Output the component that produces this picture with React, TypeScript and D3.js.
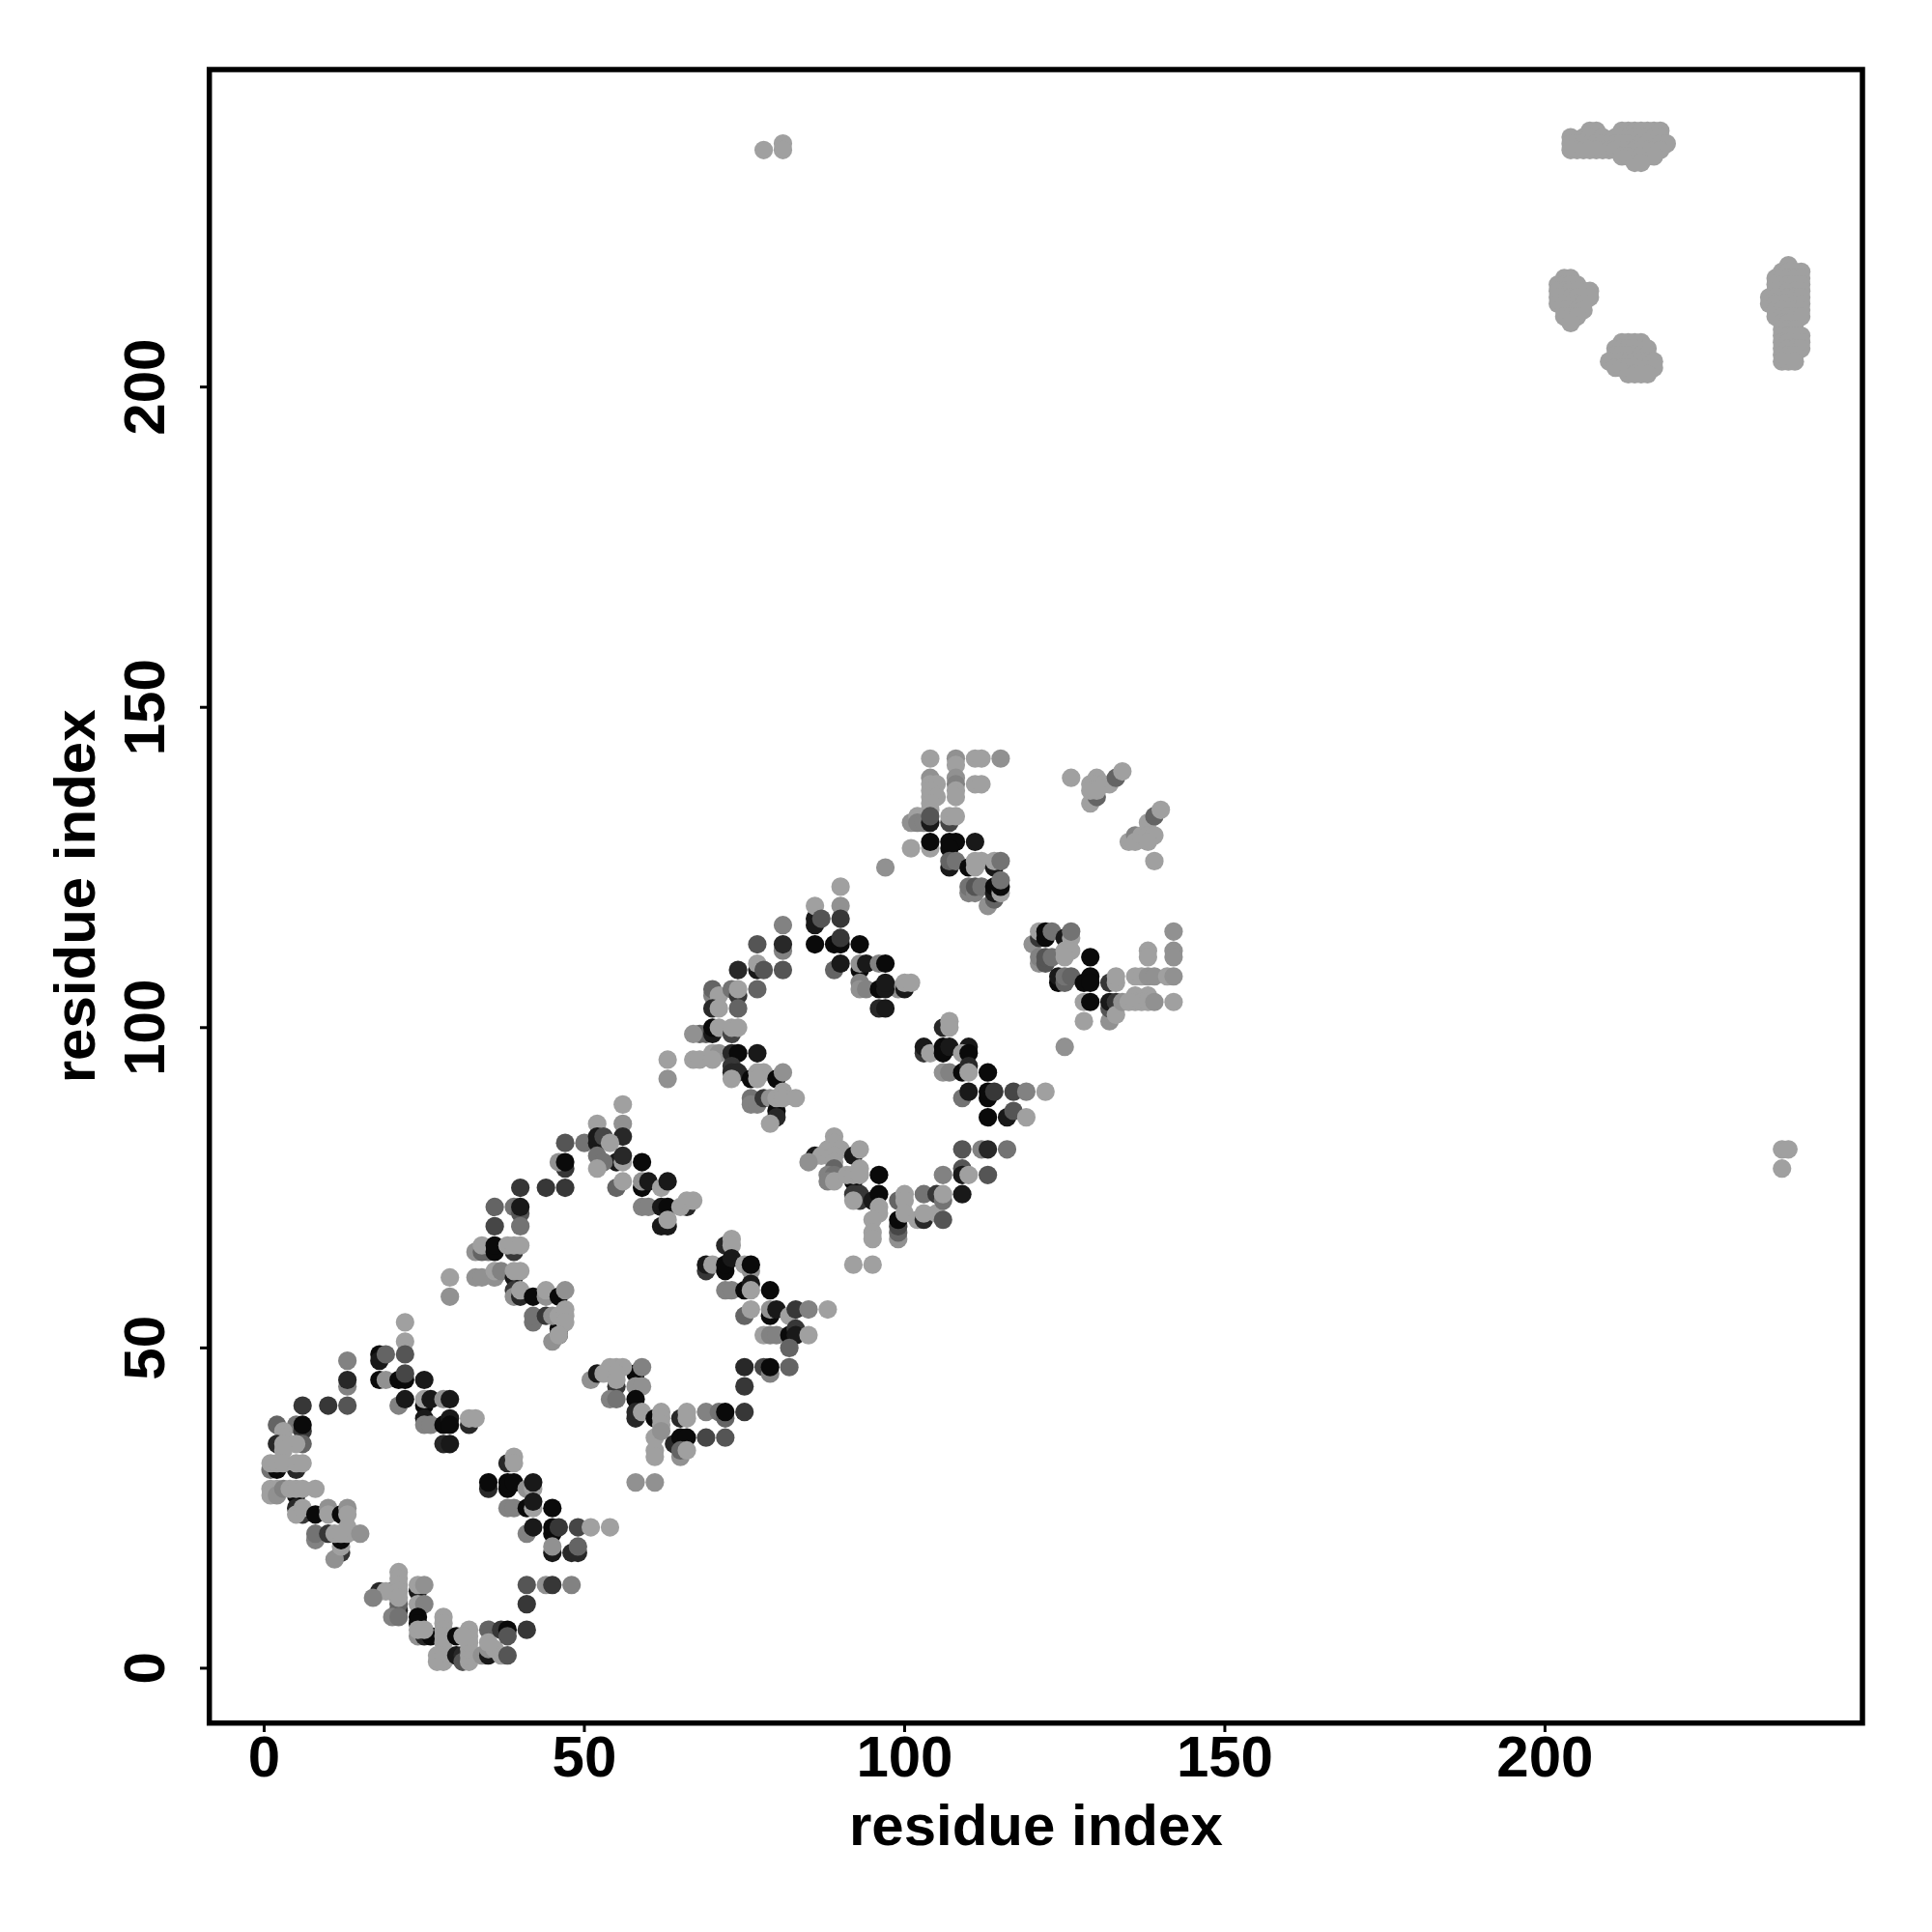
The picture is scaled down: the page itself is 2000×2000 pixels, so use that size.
import React from 'react';
import * as d3 from 'd3';

// Each contact is [residue i, residue j, shade level]
type C = [number, number, number];
const loopA: C[] = [[20,12,0],[18,12,2],[19,12,10],[17,11,8],[21,9,2],[21,10,6],[21,15,10],[21,14,10],[21,13,10],[21,12,10],[21,11,10],[20,8,8],[21,8,7],[24,12,1],[24,13,10],[25,13,9],[24,10,10],[25,10,8],[24,8,0],[24,7,0],[24,5,9],[25,5,2],[26,5,0],[24,6,10],[25,6,10],[28,8,10],[28,7,10],[28,6,10],[28,5,10],[28,4,10],[27,2,10],[27,1,10],[28,2,10],[28,1,10],[29,2,10],[30,5,0],[30,2,1],[31,2,2],[31,1,5],[31,5,3],[32,1,10],[32,2,10],[32,3,10],[32,4,10],[32,5,10],[32,6,10],[31,5,10],[34,2,9],[35,2,1],[35,3,9],[36,3,10],[37,2,10],[38,2,5],[35,6,6],[35,4,10],[37,6,3],[38,6,0],[38,5,5],[41,6,3],[41,10,3],[41,13,5],[44,13,9],[45,13,3],[48,13,8]];
const loopB: C[] = [[6,41,3],[10,41,3],[13,41,5],[13,44,8],[13,45,2],[13,48,8],[2,38,6],[5,38,7],[6,37,3],[6,38,0],[3,37,10],[3,36,10],[2,35,2],[6,35,6],[5,35,10],[3,35,10],[3,34,10],[1,31,7],[2,31,0],[5,31,2],[1,32,10],[2,32,10],[3,32,10],[5,32,10],[6,32,10],[1,28,10],[2,28,10],[1,27,10],[2,27,9],[3,28,8],[5,27,0],[4,28,10],[5,28,10],[6,28,10],[8,28,10],[5,25,2],[6,24,3],[5,24,10],[6,25,10],[8,24,0],[10,25,9],[10,24,10],[12,24,0],[13,25,9],[13,24,10],[8,20,8],[8,21,7],[10,21,3],[12,18,3],[11,17,9],[12,19,10],[12,20,0],[11,21,10],[12,21,10],[13,21,10],[13,22,10],[15,21,9]];
const loopC: C[] = [[22,54,10],[22,51,10],[22,49,5],[18,49,0],[18,48,1],[19,49,6],[18,45,0],[19,45,9],[21,45,0],[22,45,0],[22,46,4],[25,45,1],[21,41,8],[22,42,1],[25,41,0],[25,42,10],[26,42,1],[28,42,9],[29,42,1],[25,39,1],[25,38,8],[26,38,8],[28,38,0],[29,39,1],[29,38,0],[28,35,2],[29,35,1],[32,38,2],[32,39,10],[33,39,10]];
const loopD: C[] = [[38,32,2],[39,33,10],[39,32,10],[35,28,2],[35,29,0],[38,28,0],[38,29,0],[39,29,0],[41,28,9],[42,28,10],[42,29,1],[38,25,8],[39,25,8],[41,25,0],[42,25,10],[42,26,1],[45,25,0],[41,21,8],[42,22,1],[45,21,0],[45,22,0],[46,22,3],[49,22,4],[51,22,10],[54,22,10],[45,18,1],[45,19,9],[48,18,2],[49,18,2],[49,19,6]];
const loopE: C[] = [[40,75,3],[44,75,3],[47,75,3],[47,78,3],[46,79,9],[47,79,0],[47,82,5],[50,82,7],[36,72,6],[39,72,7],[40,71,5],[40,72,1],[40,69,7],[36,69,4],[33,65,9],[35,65,7],[34,65,6],[34,66,10],[36,65,0],[36,66,0],[39,65,3],[38,66,10],[39,66,10],[40,66,10],[29,61,10],[29,58,9],[33,61,9],[34,61,9],[36,61,9],[36,62,10],[37,62,8],[39,61,1],[39,62,10],[40,62,10],[39,59,3],[39,58,9],[40,58,2],[40,59,10],[42,58,0],[44,58,9],[44,59,10],[46,58,0],[47,59,9],[42,54,7],[42,55,7],[44,55,3],[46,53,0],[46,52,1],[45,51,9],[45,55,9],[46,55,10],[47,56,10],[47,55,10],[47,54,10],[46,52,10]];
const loopF: C[] = [[56,88,10],[56,85,9],[56,83,2],[52,85,10],[52,82,1],[52,83,1],[53,83,4],[54,82,10],[55,79,1],[56,79,10],[56,80,2],[52,80,7],[53,79,7],[52,78,10],[55,75,6],[56,76,10],[59,79,0],[59,75,0],[59,76,9],[60,76,1],[62,75,10],[63,76,1],[59,72,8],[60,72,8],[62,72,1],[63,72,0],[66,72,2],[65,72,10],[66,73,10],[67,73,10],[62,69,1],[63,69,1],[63,70,10]];
const loopG: C[] = [[72,66,2],[73,67,10],[73,66,10],[69,62,3],[69,63,1],[70,63,10],[72,62,0],[72,63,0],[73,64,1],[75,63,10],[76,62,9],[76,63,0],[72,59,8],[73,59,8],[75,59,0],[76,60,1],[76,59,10],[79,59,0],[75,55,6],[76,56,10],[79,55,0],[79,56,9],[80,56,1],[82,55,10],[83,56,3],[85,56,8],[88,56,10],[78,52,10],[79,52,8],[80,52,8],[82,52,0],[83,53,3],[83,52,1],[85,52,10],[82,50,6]];
const loopH: C[] = [[75,47,2],[78,47,4],[79,46,8],[79,47,0],[82,47,6],[75,44,3],[58,46,0],[59,47,8],[51,45,9],[52,46,1],[53,46,10],[55,44,3],[54,47,10],[55,47,10],[56,47,10],[55,46,10],[55,45,10],[54,42,8],[55,42,7],[58,44,9],[59,44,9],[58,42,0],[58,39,2],[58,40,2],[59,40,10],[61,39,0],[62,40,10],[62,39,10],[62,38,10],[65,39,2],[66,40,10],[66,39,10],[69,40,8],[71,40,7],[72,39,6],[72,40,0],[75,40,3],[61,36,10],[62,37,9],[61,34,10],[61,33,10],[64,35,2],[65,36,0],[66,36,0],[69,36,4],[72,36,5],[65,33,9],[65,34,6],[66,34,10],[58,29,9],[61,29,9]];
const loopI: C[] = [[81,116,8],[81,112,8],[81,113,2],[77,113,5],[74,109,2],[77,109,1],[77,110,10],[78,109,5],[81,109,5],[77,106,6],[70,105,8],[70,106,6],[71,105,10],[73,106,7],[74,105,3],[74,106,10],[74,103,6],[70,103,2],[71,103,10],[69,99,6],[68,99,6],[67,99,9],[70,99,1],[70,100,0],[71,100,10],[73,99,4],[73,100,10],[74,100,10],[63,95,10],[63,92,9],[67,95,10],[68,95,10],[70,96,10],[71,96,9],[70,95,10],[73,96,2],[74,96,0],[77,96,1],[73,94,3],[73,93,2],[74,93,2],[73,92,10],[76,92,0],[78,93,10],[77,93,10],[77,92,10],[80,92,0],[81,93,9],[76,89,7],[76,88,8],[77,88,8],[78,89,3],[79,89,9],[80,87,0],[80,86,2],[79,85,10],[80,89,10],[81,90,10],[81,89,10],[83,89,10]];
const loopP: C[] = [[90,122,10],[86,117,1],[86,116,1],[86,119,10],[87,117,5],[90,119,9],[90,117,3],[86,113,0],[89,113,0],[90,113,0],[90,114,3],[93,113,0],[89,109,6],[90,110,1],[93,109,0],[93,110,9],[94,110,1],[96,110,8],[97,110,0],[93,107,8],[93,106,9],[94,106,8],[99,106,9],[96,106,0],[97,106,1],[97,107,1],[100,106,1],[100,107,10],[101,107,10],[96,103,2],[97,103,1]];
const loopJ: C[] = [[86,80,1],[87,80,10],[85,79,9],[88,81,10],[89,83,10],[89,82,10],[89,81,10],[90,81,10],[89,80,10],[89,79,10],[89,78,6],[88,77,8],[89,77,7],[88,76,8],[89,76,10],[92,80,1],[93,81,10],[92,76,0],[91,77,10],[92,77,10],[93,78,10],[93,77,10],[96,77,0],[92,74,3],[93,74,3],[93,73,3],[92,73,10],[95,73,1],[96,74,0],[96,72,10],[96,71,10],[95,70,10],[95,68,10],[95,67,10],[99,73,6],[100,74,10],[100,73,10],[99,67,9],[99,68,6],[99,69,4],[99,70,0],[100,71,10],[102,70,10],[103,70,2],[103,71,10],[105,71,10],[106,70,5],[103,74,7],[105,74,3],[106,73,7],[106,74,10],[109,74,1],[106,77,8],[109,78,5],[109,77,1],[110,77,10],[113,77,5],[109,81,5],[112,81,8],[113,81,2],[116,81,7],[92,63,10],[95,63,10]];
const loopK: C[] = [[106,100,2],[107,101,10],[107,100,10],[103,96,3],[103,97,1],[104,96,10],[106,97,0],[106,96,0],[107,97,1],[110,97,1],[109,96,10],[110,96,0],[106,93,9],[107,93,8],[109,93,0],[110,94,2],[110,93,10],[113,93,0],[109,89,7],[110,90,1],[113,89,0],[113,90,0],[114,90,3],[117,90,4],[119,90,8],[122,90,10],[113,86,0],[116,86,1],[117,87,5],[119,86,10]];
const loopL: C[] = [[104,142,10],[108,142,9],[111,142,10],[112,142,10],[115,142,9],[108,141,10],[104,139,9],[108,139,9],[108,138,8],[111,138,10],[112,138,10],[104,138,10],[105,138,10],[104,137,10],[108,137,10],[108,136,10],[104,136,10],[105,136,10],[104,135,10],[104,134,10],[101,132,9],[102,133,10],[102,132,8],[103,132,8],[104,132,1],[104,133,5],[107,132,4],[107,133,10],[108,133,10],[101,128,10],[104,128,10],[104,129,0],[107,129,0],[108,129,0],[107,128,0],[111,129,1],[97,125,9],[107,125,1],[107,126,6],[108,126,7],[110,125,0],[111,126,10],[112,126,10],[111,125,10],[114,125,1],[114,126,10],[115,126,7],[110,121,8],[110,122,7],[111,121,8],[111,122,5],[112,122,7],[113,119,9],[114,120,6],[114,121,1],[114,122,0],[115,121,10],[115,122,0],[115,123,7]];
const loopM: C[] = [[126,139,10],[129,138,10],[130,139,10],[130,138,10],[131,138,10],[132,138,10],[133,139,6],[134,140,10],[129,135,10],[130,136,6],[129,137,10],[130,137,10],[135,129,10],[136,130,8],[136,129,10],[137,130,10],[138,132,10],[139,133,6],[140,134,10],[138,130,10],[139,130,10],[138,129,10],[139,126,10]];
const loopN: C[] = [[120,113,9],[121,114,3],[121,115,10],[122,114,0],[122,115,0],[123,115,7],[125,114,1],[126,114,10],[126,115,7],[121,110,9],[121,111,8],[122,110,5],[122,111,5],[123,111,7],[125,112,10],[126,112,10],[125,111,10],[129,111,0],[124,107,0],[124,108,1],[125,107,6],[125,108,7],[126,108,6],[128,107,0],[129,108,0],[129,107,0],[128,104,10],[129,104,0],[128,101,10],[132,107,3],[133,107,10],[133,108,10],[132,101,9],[132,103,5],[132,104,1],[133,104,3],[133,102,10],[134,104,9],[136,108,10],[137,108,10],[138,108,9],[139,108,9],[141,108,10],[142,108,9],[138,112,10],[138,111,10],[142,115,9],[142,112,9],[142,111,9],[136,105,10],[138,105,10],[135,104,10],[136,104,10],[137,104,10],[138,104,10],[139,104,9],[142,104,10],[125,97,9]];
const isolated: C[] = [[237,81,10],[238,81,10],[237,78,10],[78,237,10],[81,238,10],[81,237,10]];

// Far-apart contacts, listed by row of residue j
type Row = { j: number; i: number[] };
const bandTop: Row[] = [
  { j: 240, i: [207,208,212,213,214,215,216,217,218] },
  { j: 239, i: [204,206,207,208,209,211,212,213,214,215,216,217,218] },
  { j: 238, i: [204,205,206,207,208,209,210,211,212,213,214,215,216,217,218,219] },
  { j: 237, i: [204,205,206,207,208,209,210,211,212,213,214,215,216,217,218] },
  { j: 236, i: [212,213,214,215,216,217] },
  { j: 235, i: [214,215] },
];
const blobLeft: Row[] = [
  { j: 217, i: [203,204] },
  { j: 216, i: [202,203,204,205] },
  { j: 215, i: [202,203,204,205,206,207] },
  { j: 214, i: [202,203,204,205,206,207] },
  { j: 213, i: [202,203,204,205,206] },
  { j: 212, i: [203,204,205,206] },
  { j: 211, i: [203,204,205] },
  { j: 210, i: [204] },
];
const blobLow: Row[] = [
  { j: 207, i: [212,213,214,215] },
  { j: 206, i: [211,212,213,214,215,216] },
  { j: 205, i: [211,212,213,214,215,216] },
  { j: 204, i: [210,211,212,213,214,215,216,217] },
  { j: 203, i: [211,212,213,214,215,216,217] },
  { j: 202, i: [213,214,215,216] },
];
const blobRight: Row[] = [
  { j: 219, i: [238] },
  { j: 218, i: [237,238,239,240] },
  { j: 217, i: [236,237,238,239,240] },
  { j: 216, i: [236,237,238,239,240] },
  { j: 215, i: [236,237,238,239,240] },
  { j: 214, i: [235,236,237,238,239,240] },
  { j: 213, i: [235,236,237,238,239,240] },
  { j: 212, i: [236,237,238,239,240] },
  { j: 211, i: [236,237,238,239,240] },
  { j: 210, i: [237,238,239] },
  { j: 209, i: [237,238,239] },
  { j: 208, i: [237,238,239,240] },
  { j: 207, i: [237,238,239,240] },
  { j: 206, i: [237,238,239,240] },
  { j: 205, i: [237,238,239] },
  { j: 204, i: [237,238,239] },
];

const xTicks = [0, 50, 100, 150, 200];
const yTicks = [0, 50, 100, 150, 200];
const axisTitle = 'residue index';

const fromRows = (rows: Row[]): C[] => rows.flatMap((r) => r.i.map((i) => [i, r.j, 10] as C));
const contacts: C[] = [loopA, loopB, loopC, loopD, loopE, loopF, loopG, loopH, loopI, loopP, loopJ, loopK, loopL, loopM, loopN, isolated,
  fromRows(bandTop), fromRows(blobLeft), fromRows(blobLow), fromRows(blobRight)].flat();

export default function App() {
  const L = 216.7, R = 1928, T = 72, B = 1783.7;
  const x = d3.scaleLinear().domain([-8.56, 249.56]).range([L, R]);
  const y = d3.scaleLinear().domain([-8.56, 249.56]).range([B, T]);
  const shade = d3.scaleLinear().domain([0, 10]).range([10, 160]);
  const font = '"Liberation Sans", Arial, sans-serif';
  const gray = (v: number) => { const g = Math.round(shade(v)); return `rgb(${g},${g},${g})`; };
  return (
    <svg width={2000} height={2000} style={{ position: 'absolute', left: 0, top: 0, background: '#fff' }} fontFamily={font} fontWeight="bold">
      {contacts.map(([i, j, v], k) => (
        <circle key={k} cx={x(i)} cy={y(j)} r={9.6} fill={gray(v)} />
      ))}
      <rect x={L} y={T} width={R - L} height={B - T} fill="none" stroke="#000" strokeWidth={5.5} />
      {xTicks.map((t) => (
        <g key={t}>
          <line x1={x(t)} x2={x(t)} y1={B} y2={1793} stroke="#000" strokeWidth={3} />
          <text x={x(t)} y={1838.5} textAnchor="middle" fontSize={60} fill="#000">{t}</text>
        </g>
      ))}
      {yTicks.map((t) => (
        <g key={t}>
          <line x1={207} x2={L} y1={y(t)} y2={y(t)} stroke="#000" strokeWidth={3} />
          <text transform={`translate(170,${y(t)}) rotate(-90)`} textAnchor="middle" fontSize={60} fill="#000">{t}</text>
        </g>
      ))}
      <text x={(L + R) / 2} y={1909.5} textAnchor="middle" fontSize={60} fill="#000">{axisTitle}</text>
      <text transform={`translate(98,${(T + B) / 2}) rotate(-90)`} textAnchor="middle" fontSize={60} fill="#000">{axisTitle}</text>
    </svg>
  );
}
